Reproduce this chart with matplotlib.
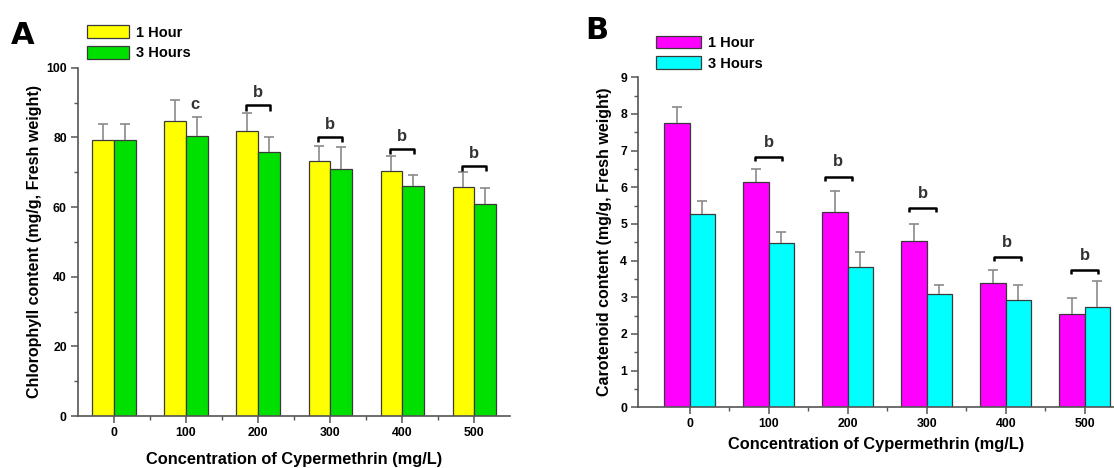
import numpy as np
import matplotlib
matplotlib.use('Agg')
from matplotlib import pyplot as plt
from matplotlib.ticker import MultipleLocator, FixedLocator

plt.rcParams['font.family'] = ['Liberation Sans', 'DejaVu Sans']
plt.rcParams['font.weight'] = 'bold'

conc = ['0', '100', '200', '300', '400', '500']

# panel A - chlorophyll
chl_1h = [79.3, 84.6, 81.9, 73.3, 70.4, 65.7]
chl_1h_err = [4.6, 6.3, 5.2, 4.4, 4.4, 4.4]
chl_3h = [79.2, 80.5, 75.9, 71.0, 66.0, 60.8]
chl_3h_err = [4.7, 5.5, 4.3, 6.2, 3.1, 4.6]
chl_sig = ['', 'c', 'b', 'b', 'b', 'b']
chl_sig_y = [0, 89.5, 89.2, 80.1, 76.7, 71.8]

# panel B - carotenoid
car_1h = [7.75, 6.15, 5.33, 4.54, 3.40, 2.54]
car_1h_err = [0.45, 0.35, 0.56, 0.45, 0.35, 0.44]
car_3h = [5.26, 4.48, 3.81, 3.10, 2.92, 2.74]
car_3h_err = [0.36, 0.31, 0.42, 0.23, 0.41, 0.70]
car_sig = ['', 'b', 'b', 'b', 'b', 'b']
car_sig_y = [0, 6.83, 6.29, 5.44, 4.10, 3.74]
car_sig_dx = [0, 0.0, -0.12, -0.05, 0.02, 0.0]

fig = plt.figure(figsize=(11.14, 4.68), dpi=100)


def bars(ax, xs, v, e, w, c, lab):
    ax.bar(xs, v, w, color=c, edgecolor='#3a3a3a', linewidth=0.9, label=lab, zorder=2)
    top = np.array(v) + np.array(e)
    # one-sided error bars, cap only at the top
    ax.vlines(xs, v, top, color='#8a8a8a', lw=1.2, zorder=3)
    ax.plot(xs, top, ls='none', marker='_', ms=7, mew=1.2, color='#8a8a8a', zorder=3)


def panel(rect, v1, e1, v2, e2, c1, c2, ylim, major, minor, xlim, w, ylabel, xpad, ypad):
    ax = fig.add_axes(rect)
    x = np.arange(len(conc))
    bars(ax, x - w / 2, v1, e1, w, c1, '1 Hour')
    bars(ax, x + w / 2, v2, e2, w, c2, '3 Hours')
    ax.set_xlim(*xlim)
    ax.set_ylim(*ylim)
    ax.set_xticks(x)
    ax.set_xticklabels(conc)
    ax.xaxis.set_minor_locator(FixedLocator(x[:-1] + 0.5))
    ax.yaxis.set_major_locator(MultipleLocator(major))
    ax.yaxis.set_minor_locator(MultipleLocator(minor))
    for s in ['top', 'right']:
        ax.spines[s].set_visible(False)
    for s in ['left', 'bottom']:
        ax.spines[s].set_color('#555555')
        ax.spines[s].set_linewidth(1.2)
    ax.tick_params(which='major', direction='out', length=5, width=1.1, color='#555555',
                   labelsize=8.8, pad=3)
    ax.tick_params(which='minor', direction='out', length=3, width=1, color='#555555')
    ax.set_xlabel('Concentration of Cypermethrin (mg/L)', fontsize=11.8, fontweight='bold', labelpad=xpad)
    ax.set_ylabel(ylabel, fontsize=11.5, fontweight='bold', labelpad=ypad)
    return ax


def bracket(ax, xc, y, h, half=0.17):
    ax.plot([xc - half, xc - half, xc + half, xc + half], [y - h, y, y, y - h],
            color='black', lw=1.8, solid_capstyle='butt', zorder=3)


# A
axA = panel([0.070, 0.111, 0.388, 0.744], chl_1h, chl_1h_err, chl_3h, chl_3h_err,
            '#ffff00', '#00e000', (0, 100), 20, 10, (-0.5, 5.5), 0.3,
            'Chlorophyll content (mg/g, Fresh weight)', 9, 3)
for i, s in enumerate(chl_sig):
    if s == 'c':
        axA.text(i + 0.12, chl_sig_y[i], s, ha='center', va='center', fontsize=12, color='#333333')
    elif s:
        bracket(axA, i, chl_sig_y[i], 1.5)
        axA.text(i, chl_sig_y[i] + 3.7, s, ha='center', va='center', fontsize=12, color='#333333')
axA.legend(loc='upper left', bbox_to_anchor=(0.078, 0.946), bbox_transform=fig.transFigure,
           frameon=False, prop=dict(size=10.5, weight='bold'), handlelength=2.9, handleheight=0.95,
           labelspacing=0.45, handletextpad=0.45, borderaxespad=0, borderpad=0)
fig.text(0.020, 0.925, 'A', fontsize=22, fontweight='bold', family='DejaVu Sans', va='center', ha='center')

# B
axB = panel([0.573, 0.130, 0.427, 0.705], car_1h, car_1h_err, car_3h, car_3h_err,
            '#ff00ff', '#00ffff', (0, 9), 1, 0.5, (-0.65, 5.37), 0.32,
            'Carotenoid content (mg/g, Fresh weight)', 5, 6)
for i, s in enumerate(car_sig):
    if s:
        bracket(axB, i + car_sig_dx[i], car_sig_y[i], 0.12)
        axB.text(i + car_sig_dx[i], car_sig_y[i] + 0.4, s, ha='center', va='center',
                 fontsize=12, color='#333333')
axB.legend(loc='upper left', bbox_to_anchor=(0.589, 0.924), bbox_transform=fig.transFigure,
           frameon=False, prop=dict(size=10.5, weight='bold'), handlelength=3.1, handleheight=0.95,
           labelspacing=0.45, handletextpad=0.45, borderaxespad=0, borderpad=0)
fig.text(0.536, 0.935, 'B', fontsize=22, fontweight='bold', family='DejaVu Sans', va='center', ha='center')

plt.savefig('out.png', dpi=100)
